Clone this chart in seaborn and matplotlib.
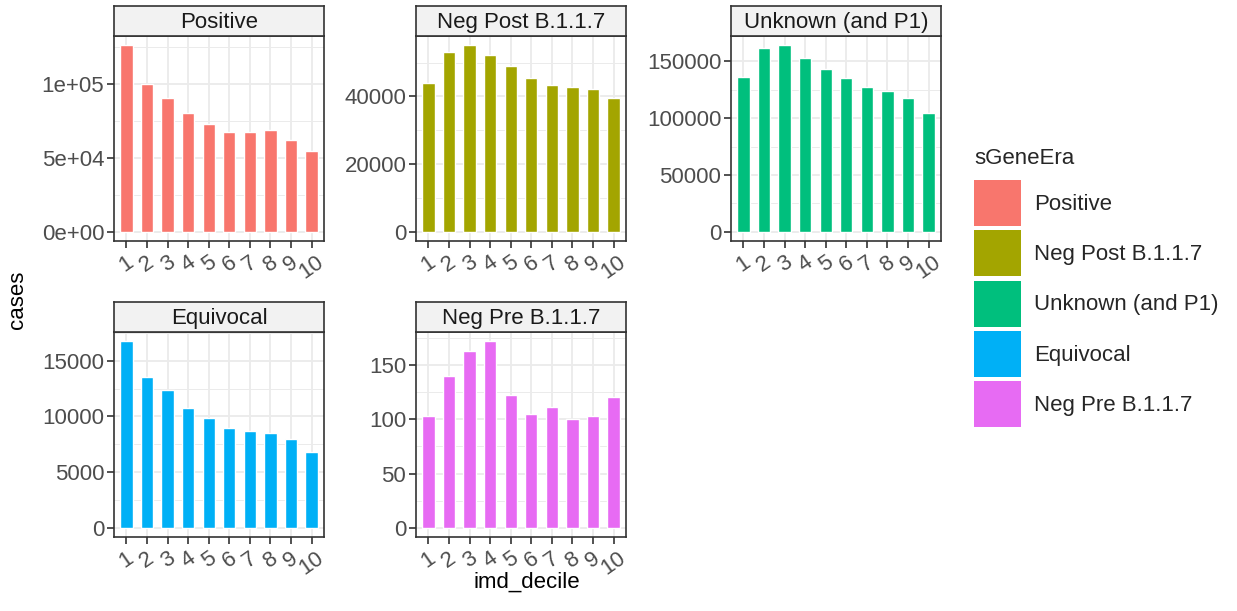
import numpy as np
import pandas as pd
import matplotlib
matplotlib.use("Agg")
import matplotlib.pyplot as plt
from matplotlib.patches import Patch
import seaborn as sns

# ---- data -------------------------------------------------------------
deciles = [str(i) for i in range(1, 11)]
eras = ["Positive", "Neg Post B.1.1.7", "Unknown (and P1)", "Equivocal", "Neg Pre B.1.1.7"]
era_colors = ["#F8766D", "#A3A500", "#00BF7D", "#00B0F6", "#E76BF3"]

positive = [126000, 100000, 90500, 80100, 72800, 67200, 67600, 69000, 62200, 54300]
neg_post = [43900, 53200, 55100, 52100, 49000, 45500, 43400, 42700, 42200, 39600]
unknown = [136200, 162000, 164100, 153000, 143600, 135300, 127400, 123600, 118000, 104800]
equivocal = [16740, 13530, 12330, 10740, 9870, 8910, 8700, 8460, 8010, 6810]
neg_pre = [103, 140, 163, 172, 122, 105, 111, 100, 103, 121]

positive_ticks = [0, 50000, 100000]
positive_ticklabels = ["0e+00", "5e+04", "1e+05"]
neg_post_ticks = [0, 20000, 40000]
unknown_ticks = [0, 50000, 100000, 150000]
equivocal_ticks = [0, 5000, 10000, 15000]
neg_pre_ticks = [0, 50, 100, 150]

series = [positive, neg_post, unknown, equivocal, neg_pre]
y_ticks = [positive_ticks, neg_post_ticks, unknown_ticks, equivocal_ticks, neg_pre_ticks]
y_ticklabels = [positive_ticklabels, None, None, None, None]

df = pd.DataFrame({
    "sGeneEra": np.repeat(eras, len(deciles)),
    "imd_decile": deciles * len(eras),
    "cases": np.concatenate(series),
})

# ---- styling ----------------------------------------------------------
sns.set_theme(style="white")
plt.rcParams["font.family"] = ["Liberation Sans", "DejaVu Sans"]

FS = 16
GRID = "#EBEBEB"
BORDER = "#333333"
TICKTXT = "#4D4D4D"

W, H = 1237, 611
fig = plt.figure(figsize=(W / 100, H / 100), dpi=100)
fig.patch.set_facecolor("white")

col_left = [114, 416, 731]
row_top = [36, 332]
panel_w, panel_h, strip_h = 210, 205, 30

for i, (era, color) in enumerate(zip(eras, era_colors)):
    r, c = divmod(i, 3)
    left, top = col_left[c], row_top[r]
    ax = fig.add_axes([left / W, 1 - (top + panel_h) / H, panel_w / W, panel_h / H])
    sub = df[df["sGeneEra"] == era]
    sns.barplot(data=sub, x="imd_decile", y="cases", order=deciles, color=color,
                saturation=1, width=0.6, errorbar=None, ax=ax)
    ax.set_xlabel("")
    ax.set_ylabel("")

    ymax = sub["cases"].max()
    lo, hi = -0.05 * ymax, 1.05 * ymax
    ax.set_ylim(lo, hi)
    ax.set_xlim(-0.6, len(deciles) - 0.4)

    ticks = y_ticks[i]
    step = ticks[1] - ticks[0]
    minor = np.arange(ticks[0] - step / 2, hi, step)
    minor = minor[(minor > lo) & (minor < hi)]
    ax.set_yticks(ticks)
    if y_ticklabels[i] is not None:
        ax.set_yticklabels(y_ticklabels[i])
    else:
        ax.set_yticklabels([str(t) for t in ticks])
    ax.set_yticks(minor, minor=True)

    ax.set_axisbelow(True)
    ax.grid(which="major", axis="both", color=GRID, linewidth=1.3)
    ax.grid(which="minor", axis="y", color=GRID, linewidth=0.7)
    ax.tick_params(axis="both", which="major", length=5, width=1.2, color=BORDER,
                   labelsize=FS, labelcolor=TICKTXT, pad=2, direction="out",
                   bottom=True, left=True)
    ax.tick_params(axis="y", which="minor", length=0)
    ax.tick_params(axis="x", labelrotation=35, pad=3)
    for s in ax.spines.values():
        s.set_color(BORDER)
        s.set_linewidth(1.2)
    ax.set_facecolor("white")

    sax = fig.add_axes([left / W, 1 - top / H, panel_w / W, strip_h / H])
    sax.set_facecolor("#F2F2F2")
    sax.set_xticks([])
    sax.set_yticks([])
    for s in sax.spines.values():
        s.set_color(BORDER)
        s.set_linewidth(1.2)
    sax.text(0.5, 0.45, era, ha="center", va="center", fontsize=FS, color="#1A1A1A",
             transform=sax.transAxes)

fig.text(18 / W, 1 - 300 / H, "cases", rotation=90, ha="center", va="center",
         fontsize=FS, color="black")
fig.text(527 / W, 1 - 582 / H, "imd_decile", ha="center", va="center",
         fontsize=FS, color="black")

handles = [Patch(facecolor=col, edgecolor="none") for col in era_colors]
leg = fig.legend(handles, eras, title="sGeneEra", loc="upper left",
                 bbox_to_anchor=(974 / W, 1 - 148 / H), frameon=False,
                 handlelength=2.1, handleheight=2.8, labelspacing=0.2,
                 handletextpad=0.6, borderpad=0, borderaxespad=0,
                 alignment="left", fontsize=FS, title_fontsize=FS)
# a little more room between the legend title and its keys
leg._legend_box.sep = 8

fig.savefig("out.png", dpi=100, facecolor="white")
